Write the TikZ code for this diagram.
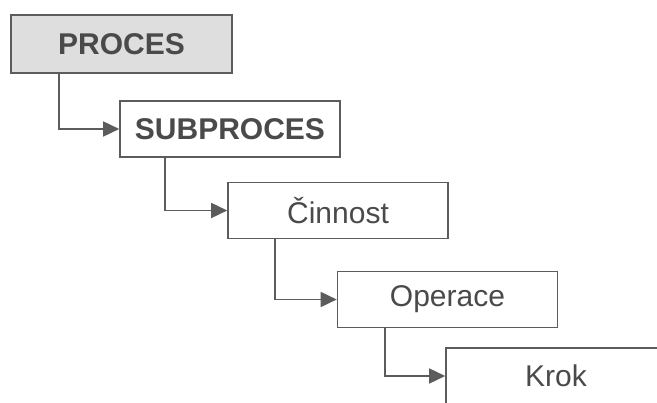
\documentclass[tikz,border=0pt]{standalone}
\usepackage{fontspec}
\setmainfont{Liberation Sans}
\usepackage{xcolor}
\usepackage{tikz}
\usetikzlibrary{arrows.meta}

\definecolor{linegray}{HTML}{5C5C5C}
\definecolor{textgray}{HTML}{4A4A4A}

\begin{document}
\begin{tikzpicture}[x=1pt,y=-1pt,
  box/.style={draw=linegray, line width=1.6pt, minimum width=220pt, minimum height=56pt,
    inner sep=0pt, text=textgray, font=\fontsize{30}{34}\selectfont},
  link/.style={draw=linegray, line width=1.6pt, -{Triangle[length=16pt,width=15pt]}}]
\useasboundingbox (0,0) rectangle (657,403);
\clip (0,0) rectangle (657,403);
\fill[white] (0,0) rectangle (657,403);

\node[box, fill=black!13, minimum width=221pt, minimum height=58pt,
  font=\fontsize{30}{34}\selectfont\bfseries] (proces) at (121.5,44) {PROCES};
\node[box, font=\fontsize{30}{34}\selectfont\bfseries] (subproces) at (230,129) {SUBPROCES};
\node[box] (cinnost) at (338,210.5) {Činnost};
\node[box] (operace) at (447.5,299.5) {Operace};
\node[box] (krok) at (556,376) {Krok};

\draw[link] ([xshift=49pt]proces.south west) |- (subproces.west);
\draw[link] ([xshift=46pt]subproces.south west) |- (cinnost.west);
\draw[link] ([xshift=48pt]cinnost.south west) |- (operace.west);
\draw[link] ([xshift=48pt]operace.south west) |- (krok.west);

\end{tikzpicture}
\end{document}
